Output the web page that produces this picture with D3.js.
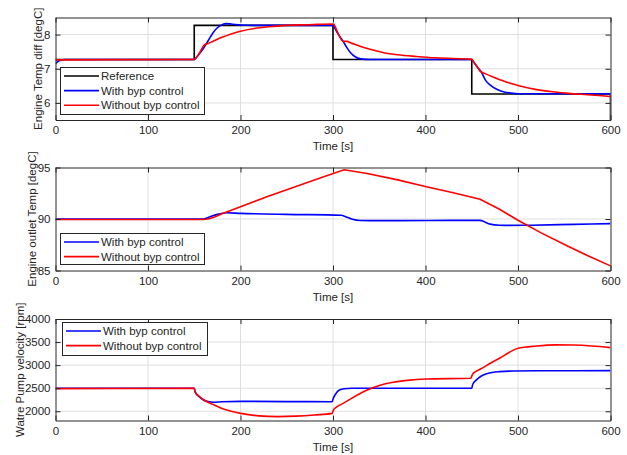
<!DOCTYPE html>
<html>
<head>
<meta charset="utf-8">
<script src="https://cdn.jsdelivr.net/npm/d3@7"></script>
<style>
  body { margin: 0; background: #fff; }
  text { font-family: "Liberation Sans", Arial, sans-serif; fill: #262626; }
</style>
</head>
<body>
<svg id="chart" width="627" height="455"></svg>
<script>
// ---- data ----
const xTicks = [0, 100, 200, 300, 400, 500, 600]

// panel 1: Engine Temp diff
const refT = [0, 150, 150, 300, 300, 450, 450, 600, 600]
const refV = [7.27, 7.27, 8.27, 8.27, 7.27, 7.27, 6.26, 6.26, 5.3]
const blueT1 = [0, 3, 6, 10, 150, 152, 156, 160, 165, 170, 175, 180, 185, 190, 200, 215, 300, 302, 306, 311, 315, 319, 324, 330, 340, 450, 452, 456, 460, 465, 470, 477, 485, 492, 500, 600]
const blueV1 = [7.15, 7.22, 7.25, 7.27, 7.27, 7.32, 7.45, 7.6, 7.82, 8.04, 8.2, 8.29, 8.32, 8.31, 8.28, 8.27, 8.27, 8.18, 8.0, 7.8, 7.62, 7.47, 7.35, 7.29, 7.27, 7.27, 7.2, 7.05, 6.92, 6.66, 6.52, 6.4, 6.32, 6.29, 6.27, 6.27]
const redT1 = [0, 150, 152, 156, 161, 165, 170, 180, 190, 200, 215, 230, 250, 275, 300, 301, 305, 311, 315, 320, 330, 340, 355, 370, 390, 410, 430, 450, 452, 456, 459, 465, 475, 490, 500, 520, 540, 555, 575, 600]
const redV1 = [7.26, 7.27, 7.32, 7.48, 7.7, 7.74, 7.8, 7.92, 8.02, 8.1, 8.18, 8.23, 8.27, 8.29, 8.31, 8.3, 8.06, 7.8, 7.8, 7.75, 7.65, 7.57, 7.47, 7.41, 7.36, 7.32, 7.3, 7.28, 7.2, 7.05, 6.93, 6.85, 6.74, 6.59, 6.51, 6.39, 6.32, 6.28, 6.24, 6.19]
const yTicks1 = [6, 7, 8]

// panel 2: Engine outlet Temp
const blueT2 = [0, 160, 165, 175, 185, 200, 250, 309, 313, 320, 330, 340, 459, 463, 470, 480, 490, 515, 560, 600]
const blueV2 = [90.0, 90.0, 90.15, 90.45, 90.6, 90.55, 90.45, 90.37, 90.25, 90.0, 89.85, 89.84, 89.87, 89.75, 89.5, 89.4, 89.38, 89.4, 89.48, 89.55]
const redT2 = [0, 160, 165, 172, 180, 200, 230, 260, 290, 312, 337, 370, 401, 430, 459, 480, 500, 525, 553, 575, 600]
const redV2 = [89.95, 89.95, 90.0, 90.2, 90.5, 91.2, 92.2, 93.15, 94.1, 94.78, 94.42, 93.8, 93.13, 92.55, 91.92, 90.95, 89.88, 88.65, 87.4, 86.45, 85.45]
const yTicks2 = [85, 90, 95]

// panel 3: Watre Pump velocity
const blueT3 = [0, 150, 151, 155, 160, 165, 171, 180, 200, 250, 299, 300.5, 303, 307, 312, 320, 450, 451, 455, 460, 467, 480, 495, 520, 600]
const blueV3 = [2500, 2500, 2420, 2320, 2245, 2210, 2195, 2205, 2215, 2210, 2208, 2290, 2380, 2460, 2488, 2498, 2500, 2580, 2680, 2760, 2820, 2860, 2873, 2878, 2880]
const redT3 = [0, 150, 151, 155, 160, 170, 180, 190, 200, 220, 240, 260, 280, 299, 300.5, 303, 311, 320, 337, 350, 365, 380, 400, 449, 450.5, 455, 460, 470, 480, 490, 500, 520, 540, 560, 580, 600]
const redV3 = [2490, 2500, 2420, 2330, 2250, 2150, 2060, 2000, 1955, 1900, 1885, 1895, 1920, 1955, 2030, 2080, 2170, 2280, 2460, 2560, 2630, 2670, 2700, 2715, 2790, 2870, 2920, 3040, 3150, 3270, 3365, 3415, 3440, 3435, 3415, 3380]
const yTicks3 = [2000, 2500, 3000, 3500, 4000]

const BLUE = "#0000ff", RED = "#ff0000", BLACK = "#000000"
const FS = 11.5
const zip = (t, v) => t.map((d, i) => [d, v[i]])

const panels = [
  { top: 17.5, bottom: 120, domain: [5.5, 8.5], ticks: yTicks1, label: "Engine Temp diff [degC]", labelX: 42,
    series: [
      { name: "Reference", data: zip(refT, refV), color: BLACK, curve: d3.curveLinear },
      { name: "With byp control", data: zip(blueT1, blueV1), color: BLUE },
      { name: "Without byp control", data: zip(redT1, redV1), color: RED }
    ],
    legend: { x: 60, y: 67, w: 144, h: 47 } },
  { top: 167.5, bottom: 270.5, domain: [85, 95], ticks: yTicks2, label: "Engine outlet Temp [degC]", labelX: 36,
    series: [
      { name: "With byp control", data: zip(blueT2, blueV2), color: BLUE },
      { name: "Without byp control", data: zip(redT2, redV2), color: RED, curve: d3.curveLinear }
    ],
    legend: { x: 60, y: 233, w: 144, h: 31 } },
  { top: 319, bottom: 420.5, domain: [1800, 4000], ticks: yTicks3, label: "Watre Pump velocity [rpm]", labelX: 24,
    series: [
      { name: "With byp control", data: zip(blueT3, blueV3), color: BLUE },
      { name: "Without byp control", data: zip(redT3, redV3), color: RED }
    ],
    legend: { x: 62, y: 322, w: 145, h: 33 } }
]

const svg = d3.select("#chart")
const left = 55.5, right = 610.5

const xScale = d3.scaleLinear().domain([0, 600]).range([left, right])

panels.forEach((p, i) => {
  const yScale = d3.scaleLinear().domain(p.domain).range([p.bottom, p.top])
  const g = svg.append("g")

  // grid
  g.selectAll(".gx").data(xTicks.slice(1, -1)).enter().append("line")
    .attr("x1", d => xScale(d)).attr("x2", d => xScale(d))
    .attr("y1", p.top).attr("y2", p.bottom)
    .attr("stroke", "#dfdfdf").attr("stroke-width", 1)
  g.selectAll(".gy").data(p.ticks.filter(d => d > p.domain[0] && d < p.domain[1])).enter().append("line")
    .attr("x1", left).attr("x2", right)
    .attr("y1", d => yScale(d)).attr("y2", d => yScale(d))
    .attr("stroke", "#dfdfdf").attr("stroke-width", 1)

  // data lines
  const clipId = "clip" + i
  svg.append("clipPath").attr("id", clipId).append("rect")
    .attr("x", left).attr("y", p.top).attr("width", right - left).attr("height", p.bottom - p.top)
  const plot = g.append("g").attr("clip-path", "url(#" + clipId + ")")
  p.series.forEach(s => {
    const line = d3.line().x(d => xScale(d[0])).y(d => yScale(d[1])).curve(s.curve || d3.curveMonotoneX)
    plot.append("path").datum(s.data)
      .attr("d", line).attr("fill", "none")
      .attr("stroke", s.color).attr("stroke-width", 1.6)
  })

  // axes (box with inward ticks on all sides)
  const xAxisB = d3.axisBottom(xScale).tickValues(xTicks).tickSizeInner(-5).tickSizeOuter(0).tickPadding(6).tickFormat(d3.format("d"))
  const xAxisT = d3.axisTop(xScale).tickValues(xTicks).tickSizeInner(-5).tickSizeOuter(0).tickFormat("")
  const yAxisL = d3.axisLeft(yScale).tickValues(p.ticks).tickSizeInner(-5).tickSizeOuter(0).tickPadding(5).tickFormat(d3.format("d"))
  const yAxisR = d3.axisRight(yScale).tickValues(p.ticks).tickSizeInner(-5).tickSizeOuter(0).tickFormat("")

  g.append("g").attr("transform", "translate(0," + p.bottom + ")").call(xAxisB)
  g.append("g").attr("transform", "translate(0," + p.top + ")").call(xAxisT)
  g.append("g").attr("transform", "translate(" + left + ",0)").call(yAxisL)
  g.append("g").attr("transform", "translate(" + right + ",0)").call(yAxisR)

  g.selectAll(".domain").attr("stroke", "#262626")
  g.selectAll(".tick line").attr("stroke", "#262626")
  g.selectAll(".tick text").attr("font-size", FS).attr("fill", "#262626")
    .style("font-family", '"Liberation Sans", Arial, sans-serif')

  // axis labels
  g.append("text").attr("x", (left + right) / 2).attr("y", p.bottom + 30)
    .attr("text-anchor", "middle").attr("font-size", FS).text("Time [s]")
  g.append("text")
    .attr("transform", "translate(" + p.labelX + "," + ((p.top + p.bottom) / 2) + ") rotate(-90)")
    .attr("text-anchor", "middle").attr("font-size", FS).text(p.label)

  // legend
  const L = p.legend
  const lg = g.append("g")
  lg.append("rect").attr("x", L.x + 0.5).attr("y", L.y + 0.5).attr("width", L.w).attr("height", L.h)
    .attr("fill", "#fff").attr("stroke", "#262626").attr("stroke-width", 1)
  p.series.forEach((s, k) => {
    const yy = L.y + 9 + k * 14.6
    lg.append("line").attr("x1", L.x + 4).attr("x2", L.x + 39).attr("y1", yy).attr("y2", yy)
      .attr("stroke", s.color).attr("stroke-width", 1.6)
    lg.append("text").attr("x", L.x + 41).attr("y", yy + 4).attr("font-size", FS).text(s.name)
  })
})
</script>
</body>
</html>
